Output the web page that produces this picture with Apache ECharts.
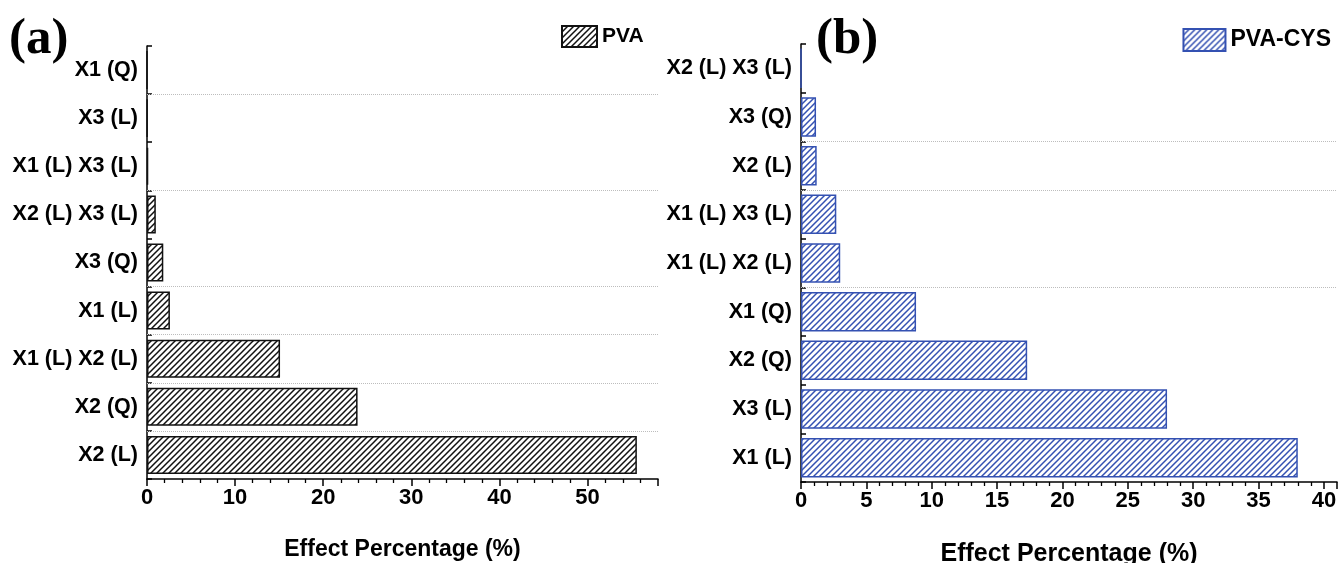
<!DOCTYPE html>
<html>
<head>
<meta charset="utf-8">
<script src="https://cdn.jsdelivr.net/npm/echarts@6/dist/echarts.min.js"></script>
<style>html,body{margin:0;padding:0;background:#fff;}#c{width:1339px;height:563px;}</style>
</head>
<body>
<div id="c"></div>
<script>
// ---- data ----
const catsA = ['X2 (L)', 'X2 (Q)', 'X1 (L) X2 (L)', 'X1 (L)', 'X3 (Q)', 'X2 (L) X3 (L)', 'X1 (L) X3 (L)', 'X3 (L)', 'X1 (Q)'];
const valsA = [55.6, 23.9, 15.1, 2.6, 1.85, 1.0, 0.12, 0.03, 0];
const catsB = ['X1 (L)', 'X3 (L)', 'X2 (Q)', 'X1 (Q)', 'X1 (L) X2 (L)', 'X1 (L) X3 (L)', 'X2 (L)', 'X3 (Q)', 'X2 (L) X3 (L)'];
const valsB = [38.0, 28.0, 17.3, 8.8, 3.0, 2.7, 1.2, 1.15, 0];
const ticksA = [0, 10, 20, 30, 40, 50];
const ticksB = [0, 5, 10, 15, 20, 25, 30, 35, 40];
const nameA = 'PVA', nameB = 'PVA-CYS';
// category boundaries (counted from the bottom) that carry a dotted grid line
const gridLinesA = [1, 2, 3, 4, 6, 8];
const gridLinesB = [4, 6, 7];

function hatch(color) {
  const s = 6;
  const cv = document.createElement('canvas');
  cv.width = s; cv.height = s;
  const ctx = cv.getContext('2d');
  ctx.fillStyle = '#fff';
  ctx.fillRect(0, 0, s, s);
  ctx.strokeStyle = color;
  ctx.lineWidth = 1.5;
  ctx.beginPath();
  ctx.moveTo(0, s); ctx.lineTo(s, 0);
  ctx.moveTo(-1, 1); ctx.lineTo(1, -1);
  ctx.moveTo(s - 1, s + 1); ctx.lineTo(s + 1, s - 1);
  ctx.stroke();
  return {image: cv, repeat: 'repeat'};
}
const blk = '#111';
const blue = '#3451b2';
const font = 'Liberation Sans, Arial, sans-serif';

function xAxis(gi, max, interval, ticks) {
  return {
    type: 'value', gridIndex: gi, min: 0, max: max, interval: interval,
    axisLine: {show: true, lineStyle: {color: '#000', width: 1.5}},
    axisTick: {show: true, length: 7, lineStyle: {color: '#000', width: 1.5}},
    minorTick: {show: true, splitNumber: 5, length: 4, lineStyle: {color: '#000', width: 1.3}},
    splitLine: {show: false},
    axisLabel: {
      color: '#000', fontFamily: font, fontWeight: 'bold', fontSize: 22, margin: 8,
      formatter: v => ticks.indexOf(v) >= 0 ? String(v) : ''
    },
    name: 'Effect Percentage (%)', nameLocation: 'middle',
    nameGap: gi === 0 ? 59 : 60,
    nameTextStyle: {color: '#000', fontFamily: font, fontWeight: 'bold', fontSize: gi === 0 ? 23 : 25}
  };
}
function yAxis(gi, cats) {
  return {
    type: 'category', gridIndex: gi, data: cats,
    axisLine: {show: true, lineStyle: {color: '#000', width: 1.5}},
    axisTick: {show: true, inside: true, length: 5, lineStyle: {color: '#000', width: 1.5}},
    axisLabel: {color: '#000', fontFamily: font, fontWeight: 'bold', fontSize: 21.5, margin: 9},
    splitLine: {show: false}
  };
}
function helperY(gi) {
  return {type: 'value', gridIndex: gi, min: 0, max: 9, show: false, splitLine: {show: false}};
}
function gridLineSeries(xi, yi, lines) {
  return {
    type: 'line', xAxisIndex: xi, yAxisIndex: yi, data: [], silent: true,
    markLine: {
      silent: true, symbol: ['none', 'none'], label: {show: false},
      lineStyle: {color: '#bdbdbd', type: 'dotted', width: 1},
      data: lines.map(v => ({yAxis: v}))
    }
  };
}

const chart = echarts.init(document.getElementById('c'), null, {renderer: 'canvas'});
chart.setOption({
  animation: false,
  backgroundColor: '#fff',
  grid: [
    {left: 147, top: 46, width: 511, height: 433, outerBoundsMode: 'none', containLabel: false},
    {left: 801, top: 44, width: 536, height: 438, outerBoundsMode: 'none', containLabel: false}
  ],
  xAxis: [xAxis(0, 58, 10, ticksA), xAxis(1, 41, 5, ticksB)],
  yAxis: [yAxis(0, catsA), yAxis(1, catsB), helperY(0), helperY(1)],
  legend: [
    {data: [nameA], left: 556, top: 20, icon: 'rect', itemWidth: 35, itemHeight: 21, itemGap: 5,
      textStyle: {color: '#000', fontFamily: font, fontWeight: 'bold', fontSize: 21}},
    {data: [nameB], right: 3, top: 23, icon: 'rect', itemWidth: 42, itemHeight: 22, itemGap: 6,
      textStyle: {color: '#000', fontFamily: font, fontWeight: 'bold', fontSize: 23}}
  ],
  graphic: [
    {type: 'text', left: 9, top: 14, style: {text: '(a)', font: 'bold 51px "Liberation Serif", "Times New Roman", serif', fill: '#000'}},
    {type: 'text', left: 816, top: 14, style: {text: '(b)', font: 'bold 51px "Liberation Serif", "Times New Roman", serif', fill: '#000'}}
  ],
  series: [
    gridLineSeries(0, 2, gridLinesA),
    gridLineSeries(1, 3, gridLinesB),
    {type: 'bar', name: nameA, xAxisIndex: 0, yAxisIndex: 0, data: valsA, barWidth: '79%',
      itemStyle: {color: hatch(blk), borderColor: blk, borderWidth: 1.5}},
    {type: 'bar', name: nameB, xAxisIndex: 1, yAxisIndex: 1, data: valsB, barWidth: '81%',
      itemStyle: {color: hatch(blue), borderColor: blue, borderWidth: 1.5}}
  ]
});
</script>
</body>
</html>
